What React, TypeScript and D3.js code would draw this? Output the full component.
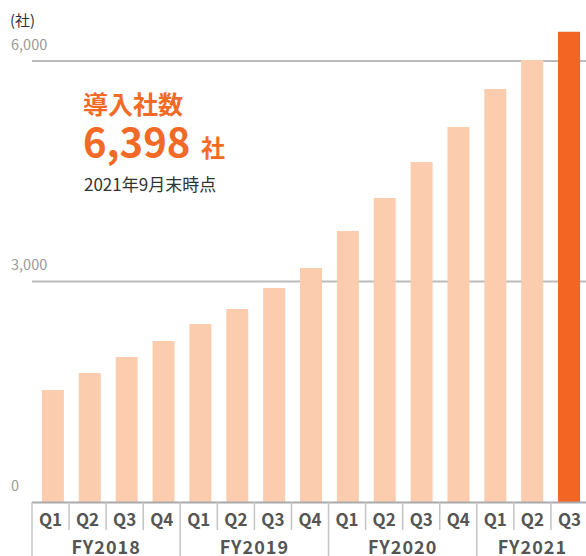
import React from "react";
import * as d3 from "d3";

const quarters = ["Q1","Q2","Q3","Q4","Q1","Q2","Q3","Q4","Q1","Q2","Q3","Q4","Q1","Q2","Q3"];
const fiscalYears = ["FY2018","FY2018","FY2018","FY2018","FY2019","FY2019","FY2019","FY2019","FY2020","FY2020","FY2020","FY2020","FY2021","FY2021","FY2021"];
const companies = [1524,1755,1973,2190,2422,2626,2912,3184,3687,4136,4626,5102,5619,6014,6398];
const yTicks = [0,3000,6000];

const W = 586, H = 556;
const FONT = "'Noto Sans CJK JP', 'Noto Sans', sans-serif";

export default function App() {
  const ids = quarters.map((_, i) => i);
  const x = d3.scaleBand<number>().domain(ids).range([32, 588]);
  const xBar = d3.scaleBand<number>().domain(ids).range([34.5, 587.5]);
  const y = d3.scaleLinear().domain([0, 6000]).range([502, 61]);
  const barW = 22;
  const groups = d3.groups(ids, (i) => fiscalYears[i]);
  const fmt = d3.format(",");
  const last = companies.length - 1;
  return (
    <svg width={W} height={H} style={{ position: "absolute", left: 0, top: 0, background: "#fff" }} fontFamily={FONT}>
      <text x={10} y={26} fontSize={15} fill="#333">(社)</text>
      {yTicks.map((t) => (
        <g key={t}>
          <text x={11} y={y(t) - 11.5} fontSize={14.5} fill="#999">{fmt(t)}</text>
          {t > 0 && <line x1={32} x2={W} y1={y(t)} y2={y(t)} stroke="#bbb" strokeWidth={2} />}
        </g>
      ))}
      {companies.map((v, i) => (
        <rect key={i} x={xBar(i)! + xBar.bandwidth() / 2 - barW / 2} y={y(v)} width={barW} height={y(0) - y(v)}
          fill={i === last ? "#F26522" : "#FBCDAE"} />
      ))}
      <line x1={32} x2={W} y1={y(0) + 0.5} y2={y(0) + 0.5} stroke="#aaa" strokeWidth={2} />
      {ids.map((i) => (
        <g key={i}>
          {i > 0 && fiscalYears[i] === fiscalYears[i - 1] && (
            <line x1={x(i)!} x2={x(i)!} y1={502} y2={530} stroke="#c4c4c4" strokeWidth={1.5} />
          )}
          <text x={x(i)! + x.bandwidth() / 2} y={526} fontSize={17} fontWeight={600} fill="#555" textAnchor="middle">{quarters[i]}</text>
        </g>
      ))}
      {groups.map(([fy, members]) => {
        const x0 = x(members[0])!;
        const x1 = x(members[members.length - 1])! + x.bandwidth();
        return (
          <g key={fy}>
            <line x1={x0} x2={x0} y1={502} y2={H} stroke="#c4c4c4" strokeWidth={1.5} />
            <text x={(x0 + x1) / 2} y={553.5} fontSize={18} fontWeight={600} fill="#555" textAnchor="middle" letterSpacing={1}>{fy}</text>
          </g>
        );
      })}
      <text x={83} y={114} fontSize={25} fontWeight={700} fill="#F26A26">導入社数</text>
      <text x={83} y={157} fontSize={40} fontWeight={700} fill="#F26A26">{fmt(companies[last])}</text>
      <text x={201} y={157} fontSize={24} fontWeight={700} fill="#F26A26">社</text>
      <text x={84} y={191} fontSize={17} fill="#333">2021年9月末時点</text>
    </svg>
  );
}
